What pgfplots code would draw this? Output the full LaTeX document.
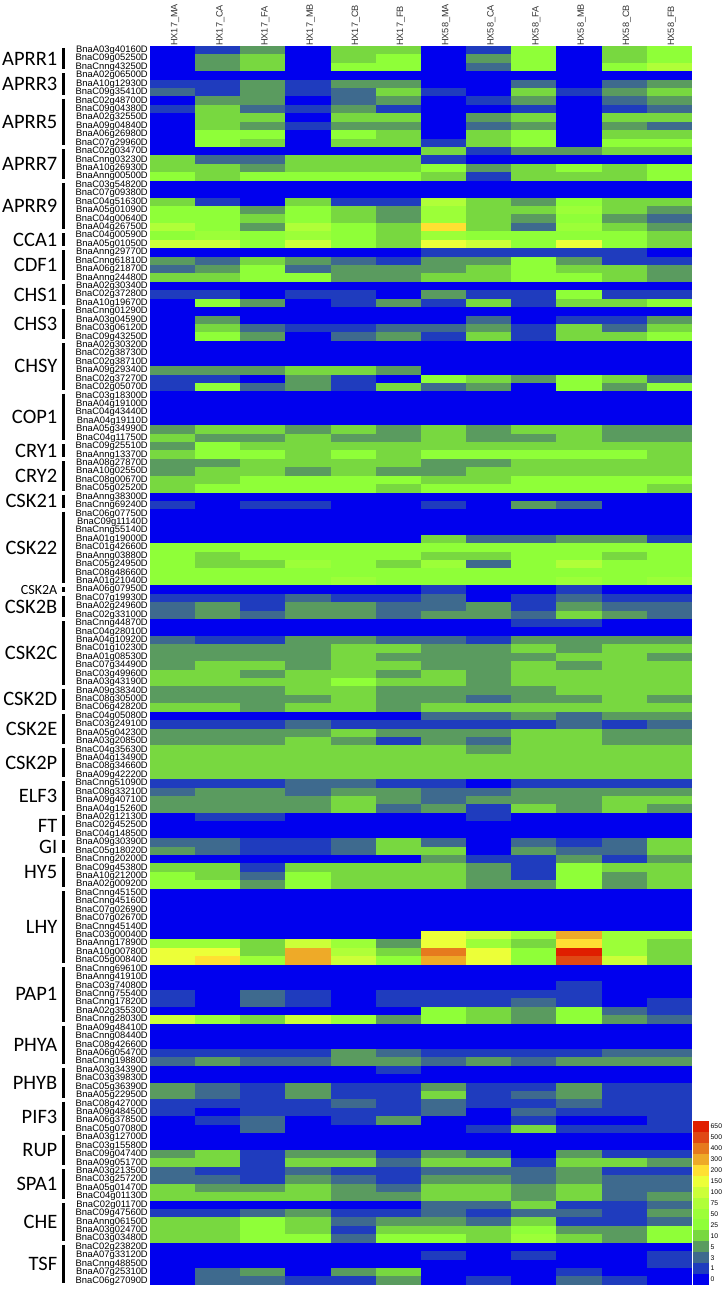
\documentclass[border=0pt]{standalone}
\usepackage{fontspec}
\usepackage{pgfplots}
\usepackage{pgfplotstable}
\pgfplotsset{compat=1.18}
\setmainfont{Liberation Sans}
\newfontfamily\calib{Carlito}

% expression levels, as colour-bar class 0..14 (0,1,3,5,10,25,50,75,100,150,200,300,400,500,650)
\pgfplotstableread{
gene c0 c1 c2 c3 c4 c5 c6 c7 c8 c9 c10 c11
BnaA03g40160D 0 1 3 0 4 4 0 1 5 0 4 5
BnaC09g05250D 0 3 4 0 4 5 0 3 5 0 4 5
BnaCnng43250D 0 3 4 0 5 5 0 2 5 0 5 7
BnaA02g06500D 0 0 0 0 0 0 0 0 0 0 0 0
BnaA10g12930D 1 1 3 1 3 3 0 0 2 0 2 3
BnaC09g35410D 2 1 3 1 2 4 1 0 4 1 3 4
BnaC02g48700D 0 3 3 0 2 3 0 1 3 0 2 3
BnaC09g04380D 1 4 2 1 3 1 0 0 1 0 1 2
BnaA02g32550D 0 4 4 0 4 4 0 3 4 0 4 4
BnaA09g04840D 0 4 3 1 3 3 0 2 3 0 3 2
BnaA06g26980D 0 5 5 0 5 4 0 4 5 0 4 4
BnaC07g29960D 0 5 4 0 4 4 1 4 5 0 5 5
BnaC02g03470D 0 0 0 0 0 0 4 1 3 3 4 4
BnaCnng03230D 4 2 2 4 4 4 1 0 0 0 0 0
BnaA10g26930D 4 4 3 4 4 4 5 3 4 5 4 5
BnaAnng00500D 5 4 5 5 5 5 4 1 4 4 4 5
BnaC03g54820D 0 0 0 0 0 0 0 0 0 0 0 0
BnaC07g09380D 0 0 0 0 0 0 0 0 0 0 0 0
BnaC04g51630D 4 1 0 4 1 1 7 4 3 5 4 4
BnaA05g01090D 5 5 3 5 4 3 6 4 4 6 4 3
BnaC04g00640D 5 5 4 5 4 3 6 4 3 5 3 2
BnaA04g26750D 7 5 3 7 5 4 10 4 2 6 4 3
BnaC04g00590D 5 6 5 6 5 4 6 5 5 5 5 4
BnaA05g01050D 8 8 5 8 5 4 9 8 5 9 5 4
BnaAnng29770D 0 0 0 0 0 0 1 1 1 1 1 0
BnaCnng61810D 3 2 4 3 2 1 3 3 5 3 1 1
BnaA06g21870D 2 3 5 2 3 3 3 4 5 4 4 3
BnaAnng24480D 4 4 5 5 3 3 4 4 5 5 4 3
BnaA02g30340D 0 0 0 0 0 0 0 0 0 0 0 0
BnaC02g37280D 1 1 0 1 1 0 3 1 1 5 1 1
BnaA10g19670D 0 5 3 0 1 3 1 4 1 4 4 5
BnaCnng01290D 0 0 0 0 0 0 0 0 0 0 0 0
BnaA03g04590D 0 3 0 0 0 0 0 2 0 1 1 3
BnaC03g06120D 0 4 2 1 1 2 2 3 1 4 2 4
BnaC09g43250D 0 5 3 0 2 3 1 4 1 4 4 5
BnaA02g30320D 0 0 0 0 0 0 0 0 0 0 0 0
BnaC02g38730D 0 0 0 0 0 0 0 0 0 0 0 0
BnaC02g38710D 0 0 0 0 0 0 0 0 0 0 0 0
BnaA09g29340D 3 3 3 4 4 3 0 0 0 0 0 0
BnaC02g37270D 1 1 0 3 1 0 5 4 3 5 4 2
BnaC02g05070D 1 5 2 3 1 4 2 3 0 5 3 5
BnaC03g18300D 0 0 0 0 0 0 0 0 0 0 0 0
BnaA04g19100D 0 0 0 0 0 0 0 0 0 0 0 0
BnaC04g43440D 0 0 0 0 0 0 0 0 0 0 0 0
BnaA04g19110D 0 0 0 0 0 0 0 0 0 0 0 0
BnaA05g34990D 3 4 4 3 4 3 4 3 4 4 3 3
BnaC04g11750D 4 3 3 4 3 3 4 3 3 4 3 3
BnaC09g25510D 3 5 4 4 4 4 4 4 4 4 4 4
BnaAnng13370D 4 5 5 4 5 4 5 5 5 5 5 4
BnaA08g27870D 3 3 4 4 4 4 3 3 4 4 4 4
BnaA10g02550D 3 4 4 3 4 3 3 4 4 4 4 4
BnaC08g00670D 4 4 5 5 5 5 4 4 5 5 5 5
BnaC05g02520D 4 5 5 5 5 4 5 5 5 5 5 4
BnaAnng38300D 0 0 0 0 0 0 0 0 0 0 0 0
BnaCnng69240D 1 0 1 1 0 0 1 0 3 2 0 0
BnaC06g07750D 0 0 0 0 0 0 0 0 0 0 0 0
BnaC09g11140D 0 0 0 0 0 0 0 0 0 0 0 0
BnaCnng55140D 0 0 0 0 0 0 0 0 0 0 0 0
BnaA01g19000D 0 0 0 0 0 0 4 2 2 3 3 1
BnaC01g42660D 5 5 5 5 5 5 5 5 5 5 5 5
BnaAnng03880D 5 4 5 5 5 5 4 4 5 5 4 5
BnaC05g24950D 5 4 4 6 5 4 6 2 5 7 5 5
BnaC08g48660D 5 5 5 5 5 5 5 5 5 5 5 5
BnaA01g21040D 5 5 5 5 6 5 5 5 5 6 5 6
BnaA06g07950D 0 0 0 0 0 0 1 0 0 1 0 0
BnaC07g19930D 1 1 1 2 1 1 2 0 1 2 1 1
BnaA02g24960D 2 3 1 3 3 2 2 3 1 3 2 2
BnaC02g33100D 2 3 2 3 3 2 3 3 2 4 3 2
BnaCnng44870D 0 0 0 0 0 0 0 0 1 1 0 0
BnaC04g28010D 0 0 0 0 0 0 0 0 0 0 0 0
BnaA04g10920D 2 1 1 3 3 2 2 1 3 3 3 3
BnaC01g10230D 3 3 3 3 4 4 3 3 4 3 4 4
BnaA01g08530D 3 3 3 3 4 3 3 3 3 4 4 3
BnaC07g34490D 3 4 4 3 4 4 3 3 4 3 4 4
BnaC03g49960D 4 4 3 4 4 3 4 3 4 4 4 4
BnaA03g43190D 4 4 4 4 5 4 4 3 4 4 4 4
BnaA09g38340D 3 3 3 4 4 3 3 3 3 4 4 4
BnaC08g30500D 3 3 3 3 4 3 3 2 3 3 4 3
BnaC06g42820D 4 4 3 4 4 3 4 4 4 4 4 4
BnaC04g05080D 0 0 0 0 0 0 2 2 3 2 3 3
BnaC03g24910D 1 1 1 2 1 1 1 1 1 2 1 2
BnaA05g04230D 3 3 3 3 4 3 3 3 4 4 3 3
BnaA03g20850D 3 3 3 4 3 1 3 2 4 4 3 3
BnaC04g35630D 4 4 4 4 4 4 4 3 4 4 4 4
BnaA04g13490D 4 4 4 4 4 4 4 4 4 4 4 4
BnaC08g34660D 4 4 4 4 4 4 4 4 4 4 4 4
BnaA09g42220D 4 4 4 4 4 4 4 4 4 4 4 4
BnaCnng51090D 1 1 1 2 2 1 1 0 1 1 1 1
BnaC08g33210D 2 3 3 2 3 3 2 2 3 3 3 3
BnaA09g40710D 3 3 3 3 4 3 2 3 3 3 4 4
BnaA04g15260D 3 3 3 3 4 2 3 1 4 3 4 3
BnaA02g12130D 0 1 1 0 0 0 0 1 0 0 0 0
BnaC02g45250D 0 0 0 0 0 0 0 0 0 0 0 0
BnaC04g14850D 0 0 0 0 0 0 0 0 0 0 0 0
BnaA09g30390D 2 2 1 1 2 4 2 0 2 1 2 4
BnaC05g18020D 3 2 1 1 2 4 4 0 3 2 2 4
BnaCnng20200D 0 0 0 0 0 0 3 1 1 3 1 3
BnaC09g45380D 4 4 1 4 4 4 4 3 1 5 4 4
BnaA10g21200D 5 4 2 5 4 4 4 3 1 5 3 4
BnaA02g00920D 5 5 3 5 4 4 4 3 3 5 3 4
BnaCnng45150D 0 0 0 0 0 0 0 0 0 0 0 0
BnaCnng45160D 0 0 0 0 0 0 0 0 0 0 0 0
BnaC07g02690D 0 0 0 0 0 0 0 0 0 0 0 0
BnaC07g02670D 0 0 0 0 0 0 0 0 0 0 0 0
BnaCnng45140D 0 0 0 0 0 0 0 0 0 0 0 0
BnaC03g00040D 0 0 0 0 0 0 9 8 6 11 6 6
BnaAnng17890D 6 6 4 8 6 3 9 6 4 10 6 4
BnaA10g00780D 9 9 4 11 7 4 12 9 5 14 6 4
BnaC05g00840D 9 10 6 11 8 5 11 9 5 13 8 4
BnaCnng69610D 0 0 0 0 0 0 0 0 0 0 0 0
BnaAnng41910D 0 0 0 0 0 0 0 0 0 0 0 0
BnaC03g74080D 0 0 0 0 0 0 0 0 0 1 0 0
BnaCnng75540D 1 0 2 1 0 1 1 1 1 1 0 0
BnaCnng17820D 1 0 2 1 0 1 1 1 2 1 0 1
BnaA02g35530D 0 0 0 0 0 0 5 4 3 5 2 1
BnaCnng28030D 8 6 4 8 6 3 5 4 3 5 3 2
BnaA09g48410D 0 0 0 0 0 0 0 0 0 0 0 0
BnaCnng08440D 0 0 0 0 0 0 0 0 0 0 0 0
BnaC08g42660D 0 0 0 0 0 0 0 0 0 0 0 0
BnaA06g05470D 1 1 1 1 3 2 1 1 1 1 2 2
BnaCnng19880D 2 3 2 2 3 3 2 3 2 3 3 3
BnaA03g34390D 0 0 0 0 0 1 0 0 0 0 0 0
BnaC03g39830D 0 0 0 0 0 0 0 0 0 0 0 0
BnaC05g36390D 3 2 1 3 1 1 3 1 1 3 1 1
BnaA05g22950D 3 2 1 3 1 1 4 1 2 3 1 1
BnaC08g42700D 1 1 1 1 2 1 2 1 1 2 1 1
BnaA09g48450D 1 0 1 1 1 1 2 0 2 1 1 1
BnaA06g37850D 0 1 2 0 1 3 0 0 1 0 0 1
BnaC05g07080D 0 0 2 0 0 0 0 1 4 1 1 1
BnaA03g12700D 0 0 0 0 0 0 0 0 0 0 0 0
BnaC03g15580D 0 0 0 0 0 0 0 0 0 0 0 0
BnaC09g04740D 3 4 1 3 3 1 3 2 0 3 1 1
BnaA09g05170D 4 4 1 4 4 2 4 4 1 4 4 3
BnaA03g21350D 2 1 1 2 1 1 2 2 2 3 1 1
BnaC03g25720D 2 2 1 3 2 1 3 3 2 3 2 2
BnaA05g01470D 4 3 3 4 3 2 4 4 3 4 2 2
BnaC04g01130D 4 4 4 4 3 3 4 4 3 4 2 3
BnaC02g01170D 0 0 0 0 0 0 2 2 4 1 1 2
BnaC09g47560D 1 1 2 3 1 1 2 1 2 2 1 3
BnaAnng06150D 4 4 5 4 2 3 3 2 4 1 1 2
BnaA03g02470D 4 4 5 4 1 4 4 4 5 3 3 5
BnaC03g03480D 4 4 5 5 2 5 5 4 6 4 3 5
BnaC02g23820D 0 0 0 0 0 0 0 0 0 0 0 0
BnaA07g33120D 0 0 0 0 0 0 1 0 1 0 0 1
BnaCnng48850D 0 0 0 0 0 0 0 0 0 0 0 1
BnaA07g25310D 0 2 3 0 3 4 0 0 0 1 0 0
BnaC06g27090D 0 2 2 1 1 3 0 1 0 2 1 0
}\levels

\pgfplotstableread{
y lev
0 0
1 1
2 2
3 3
4 4
5 5
6 6
7 7
8 8
9 9
10 10
11 11
12 12
13 13
14 14
}\keylevels

% one heat map cell, a hair oversize so no seams show
\pgfdeclareplotmark{cell}{\pgfpathrectangle{\pgfpoint{-22.72bp}{-4.35bp}}{\pgfpoint{45.44bp}{8.7bp}}\pgfusepathqfill}
\pgfdeclareplotmark{keycell}{\pgfpathrectangle{\pgfpoint{-8bp}{-5.55bp}}{\pgfpoint{16bp}{11.1bp}}\pgfusepathqfill}

\pgfplotsset{
  heat/.style={
    colormap={lev}{rgb255(0)=(0,0,238) rgb255(1)=(31,60,190) rgb255(2)=(62,106,142)
      rgb255(3)=(90,155,95) rgb255(4)=(120,216,64) rgb255(5)=(143,255,56)
      rgb255(6)=(156,255,56) rgb255(7)=(176,255,56) rgb255(8)=(204,255,56)
      rgb255(9)=(236,255,56) rgb255(10)=(255,224,50) rgb255(11)=(238,170,40)
      rgb255(12)=(230,122,30) rgb255(13)=(224,72,20) rgb255(14)=(224,30,0)},
    point meta min=0, point meta max=14,
    axis line style={draw=none},
    major tick length=0pt,
    scale only axis,
  },
  heatcells/.style={only marks, scatter, scatter src=explicit, mark=#1,
    scatter/use mapped color={fill=mapped color, draw=none}},
}

% row numbers are 1-based; y in image pixels measured from the top
\newcommand\grp[4][20.5bp]{%
  \pgfmathsetmacro\ya{1289-46-8.429*(#2-1)-2}
  \pgfmathsetmacro\yb{1289-46-8.429*#3+2}
  \pgfmathsetmacro\ym{(\ya+\yb)/2}
  \draw[line width=3bp] (63bp,\ya bp)--(63bp,\yb bp);
  \node[anchor=east,inner sep=0pt,font=\calib\fontsize{#1}{#1}\selectfont] at (57.5bp,\ym bp) {#4};
}

\begin{document}
\begin{tikzpicture}
\useasboundingbox (0,0) rectangle (724bp,1289bp);

\begin{axis}[
  heat,
  at={(150bp,4bp)}, anchor=south west,
  width=542bp, height=1239bp,
  xmin=-0.5, xmax=11.5,
  ymin=-0.5, ymax=146.5,
  y dir=reverse,
  xtick={0,...,11},
  xticklabels={HX17\_MA,HX17\_CA,HX17\_FA,HX17\_MB,HX17\_CB,HX17\_FB,HX58\_MA,HX58\_CA,HX58\_FA,HX58\_MB,HX58\_CB,HX58\_FB},
  xticklabel pos=top,
  xticklabel style={xshift=2.5bp, rotate=90, anchor=west, inner sep=0pt, text=black!80, font=\fontsize{9.2bp}{9.2bp}\selectfont},
  ytick={0,...,146},
  yticklabels from table={\levels}{gene},
  yticklabel style={inner sep=0pt, xshift=-2bp, font=\fontsize{9.4bp}{9.4bp}\selectfont},
]
\pgfplotsinvokeforeach{0,...,11}{
  \addplot[heatcells=cell] table[x expr=#1, y expr=\coordindex, meta=c#1] {\levels};
}
\end{axis}

% colour key
\begin{axis}[
  heat,
  at={(693bp,4bp)}, anchor=south west,
  width=16bp, height=164bp,
  xmin=0, xmax=1,
  ymin=-0.5, ymax=14.5,
  xtick=\empty,
  ytick={0,...,14},
  yticklabels={0,1,3,5,10,25,50,75,100,150,200,300,400,500,650},
  yticklabel pos=right,
  yticklabel style={anchor=west, inner sep=0pt, xshift=1.5bp, font=\fontsize{6.8bp}{6.8bp}\selectfont},
]
\addplot[heatcells=keycell] table[x expr=0.5, y=y, meta=lev] {\keylevels};
\end{axis}

\grp{1}{3}{APRR1}
\grp{4}{6}{APRR3}
\grp{7}{12}{APRR5}
\grp{13}{16}{APRR7}
\grp{17}{22}{APRR9}
\grp{23}{24}{CCA1}
\grp{25}{28}{CDF1}
\grp{29}{31}{CHS1}
\grp{32}{35}{CHS3}
\grp{36}{41}{CHSY}
\grp{42}{47}{COP1}
\grp{48}{49}{CRY1}
\grp{50}{53}{CRY2}
\grp{54}{55}{CSK21}
\grp{56}{64}{CSK22}
\grp[14bp]{65}{65}{CSK2A}
\grp{66}{68}{CSK2B}
\grp{69}{76}{CSK2C}
\grp{77}{79}{CSK2D}
\grp{80}{83}{CSK2E}
\grp{84}{87}{CSK2P}
\grp{88}{91}{ELF3}
\grp{92}{94}{FT}
\grp{95}{96}{GI}
\grp{97}{100}{HY5}
\grp{101}{109}{LHY}
\grp{110}{116}{PAP1}
\grp{117}{121}{PHYA}
\grp{122}{125}{PHYB}
\grp{126}{129}{PIF3}
\grp{130}{133}{RUP}
\grp{134}{137}{SPA1}
\grp{138}{142}{CHE}
\grp{143}{147}{TSF}
\end{tikzpicture}
\end{document}
